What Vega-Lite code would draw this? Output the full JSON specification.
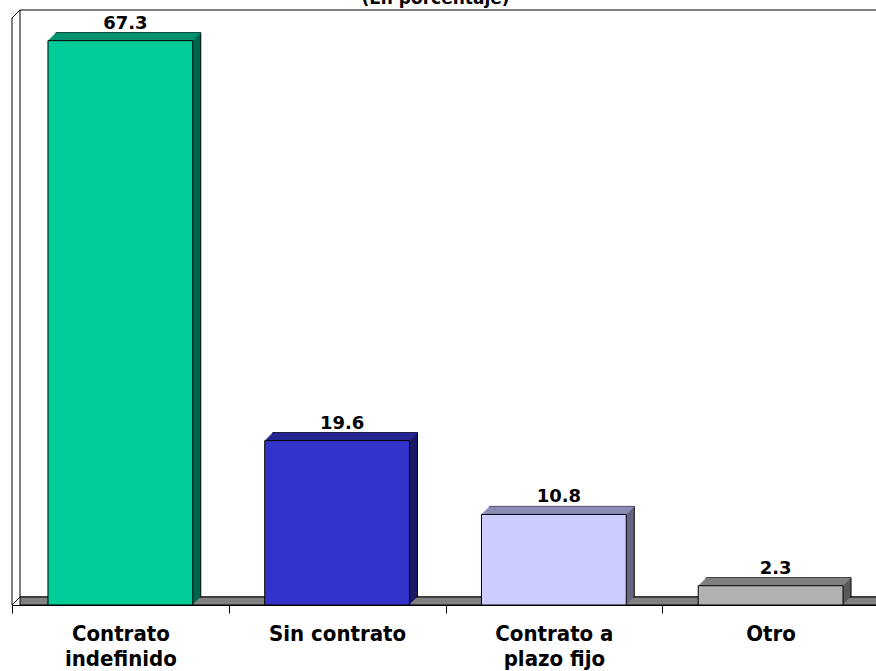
{
  "$schema": "https://vega.github.io/schema/vega-lite/v6.json",
  "width": 867,
  "height": 587,
  "autosize": {"type": "none"},
  "padding": {"left": 12, "top": 18, "right": 0, "bottom": 66},
  "background": "white",
  "title": {"text": "(En porcentaje)", "font": "DejaVu Sans", "fontWeight": "bold", "fontSize": 17, "color": "black", "anchor": "middle", "offset": -11, "dx": -10, "baseline": "alphabetic"},
  "data": {"values": [
    {"cat": "Contrato indefinido", "v": 67.3},
    {"cat": "Sin contrato", "v": 19.6},
    {"cat": "Contrato a plazo fijo", "v": 10.8},
    {"cat": "Otro", "v": 2.3}
  ]},
  "encoding": {
    "x": {"field": "cat", "type": "nominal", "sort": null, "title": null,
      "scale": {"domain": ["Contrato indefinido", "Sin contrato", "Contrato a plazo fijo", "Otro"], "paddingInner": 0, "paddingOuter": 0},
      "axis": {"labelExpr": "datum.label == 'Contrato indefinido' ? ['Contrato', 'indefinido'] : datum.label == 'Contrato a plazo fijo' ? ['Contrato a', 'plazo fijo'] : datum.label"}},
    "y": {"field": "v", "type": "quantitative", "scale": {"domain": [0, 70], "nice": false}, "axis": null}
  },
  "layer": [
    {"transform": [{"filter": "datum.cat == 'Otro'"}],
     "mark": {"type": "rect", "fill": "white", "stroke": "black", "strokeWidth": 1, "xOffset": 8, "x2Offset": 8, "yOffset": -8, "y2Offset": -8},
     "encoding": {
       "x": {"datum": "Contrato indefinido", "type": "nominal", "bandPosition": 0, "title": null},
       "x2": {"datum": "Otro", "bandPosition": 1},
       "y": {"datum": 0, "type": "quantitative"},
       "y2": {"datum": 70}
     }},
    {"transform": [{"filter": "datum.cat == 'Otro'"}],
     "mark": {"type": "rect", "fill": "#808080", "stroke": "black", "strokeWidth": 1, "xOffset": 8, "x2Offset": 8, "yOffset": 0, "y2Offset": -8},
     "encoding": {
       "x": {"datum": "Contrato indefinido", "type": "nominal", "bandPosition": 0, "title": null},
       "x2": {"datum": "Otro", "bandPosition": 1},
       "y": {"datum": 0, "type": "quantitative"},
       "y2": {"datum": 0}
     }},
    {"transform": [{"filter": "datum.cat == 'Otro'"}],
     "mark": {"type": "rule", "color": "black", "strokeWidth": 1},
     "encoding": {
       "x": {"datum": "Contrato indefinido", "type": "nominal", "bandPosition": 0, "title": null},
       "y": {"datum": 0, "type": "quantitative"},
       "y2": {"datum": 70}
     }},
    {"transform": [{"filter": "datum.cat == 'Otro'"}],
     "mark": {"type": "rule", "color": "black", "strokeWidth": 1, "x2Offset": 8, "y2Offset": -8},
     "encoding": {
       "x": {"datum": "Contrato indefinido", "type": "nominal", "bandPosition": 0, "title": null},
       "x2": {"datum": "Contrato indefinido", "bandPosition": 0},
       "y": {"datum": 70, "type": "quantitative"},
       "y2": {"datum": 70}
     }},
    {"transform": [{"filter": "datum.cat == 'Otro'"}],
     "mark": {"type": "rule", "color": "black", "strokeWidth": 1, "x2Offset": 8, "y2Offset": -8},
     "encoding": {
       "x": {"datum": "Contrato indefinido", "type": "nominal", "bandPosition": 0, "title": null},
       "x2": {"datum": "Contrato indefinido", "bandPosition": 0},
       "y": {"datum": 0, "type": "quantitative"},
       "y2": {"datum": 0}
     }},
    {"mark": {"type": "bar", "width": {"band": 0.668}, "xOffset": 8, "x2Offset": 8, "yOffset": -8, "y2Offset": -8, "stroke": "black", "strokeWidth": 1},
     "encoding": {"y2": {"datum": 0}, "fill": {"field": "cat", "type": "nominal", "sort": null, "legend": null, "scale": {"range": ["#006650", "#1A1A66", "#666680", "#595959"]}}}},
    {"mark": {"type": "bar", "width": {"band": 0.668}, "xOffset": 7, "x2Offset": 7, "yOffset": -7, "y2Offset": -7},
     "encoding": {"y2": {"datum": 0}, "fill": {"field": "cat", "type": "nominal", "sort": null, "legend": null}}},
    {"mark": {"type": "bar", "width": {"band": 0.668}, "xOffset": 6, "x2Offset": 6, "yOffset": -6, "y2Offset": -6},
     "encoding": {"y2": {"datum": 0}, "fill": {"field": "cat", "type": "nominal", "sort": null, "legend": null}}},
    {"mark": {"type": "bar", "width": {"band": 0.668}, "xOffset": 5, "x2Offset": 5, "yOffset": -5, "y2Offset": -5},
     "encoding": {"y2": {"datum": 0}, "fill": {"field": "cat", "type": "nominal", "sort": null, "legend": null}}},
    {"mark": {"type": "bar", "width": {"band": 0.668}, "xOffset": 4, "x2Offset": 4, "yOffset": -4, "y2Offset": -4},
     "encoding": {"y2": {"datum": 0}, "fill": {"field": "cat", "type": "nominal", "sort": null, "legend": null}}},
    {"mark": {"type": "bar", "width": {"band": 0.668}, "xOffset": 3, "x2Offset": 3, "yOffset": -3, "y2Offset": -3},
     "encoding": {"y2": {"datum": 0}, "fill": {"field": "cat", "type": "nominal", "sort": null, "legend": null}}},
    {"mark": {"type": "bar", "width": {"band": 0.668}, "xOffset": 2, "x2Offset": 2, "yOffset": -2, "y2Offset": -2},
     "encoding": {"y2": {"datum": 0}, "fill": {"field": "cat", "type": "nominal", "sort": null, "legend": null}}},
    {"mark": {"type": "bar", "width": {"band": 0.668}, "xOffset": 1, "x2Offset": 1, "yOffset": -1, "y2Offset": -1},
     "encoding": {"y2": {"datum": 0}, "fill": {"field": "cat", "type": "nominal", "sort": null, "legend": null}}},
    {"mark": {"type": "rule", "strokeWidth": 1, "xOffset": 0.5, "x2Offset": 0.5, "yOffset": -0.5},
     "encoding": {"x": {"field": "cat", "type": "nominal", "sort": null, "bandPosition": 0.166, "title": null}, "x2": {"field": "cat", "bandPosition": 0.834}, "stroke": {"field": "cat", "type": "nominal", "sort": null, "legend": null, "scale": {"range": ["#00A07A", "#2A2AA0", "#9999CC", "#8C8C8C"]}}}},
    {"mark": {"type": "rule", "strokeWidth": 1, "xOffset": 1.5, "x2Offset": 1.5, "yOffset": -1.5},
     "encoding": {"x": {"field": "cat", "type": "nominal", "sort": null, "bandPosition": 0.166, "title": null}, "x2": {"field": "cat", "bandPosition": 0.834}, "stroke": {"field": "cat", "type": "nominal", "sort": null, "legend": null}}},
    {"mark": {"type": "rule", "strokeWidth": 1, "xOffset": 2.5, "x2Offset": 2.5, "yOffset": -2.5},
     "encoding": {"x": {"field": "cat", "type": "nominal", "sort": null, "bandPosition": 0.166, "title": null}, "x2": {"field": "cat", "bandPosition": 0.834}, "stroke": {"field": "cat", "type": "nominal", "sort": null, "legend": null}}},
    {"mark": {"type": "rule", "strokeWidth": 1, "xOffset": 3.5, "x2Offset": 3.5, "yOffset": -3.5},
     "encoding": {"x": {"field": "cat", "type": "nominal", "sort": null, "bandPosition": 0.166, "title": null}, "x2": {"field": "cat", "bandPosition": 0.834}, "stroke": {"field": "cat", "type": "nominal", "sort": null, "legend": null}}},
    {"mark": {"type": "rule", "strokeWidth": 1, "xOffset": 4.5, "x2Offset": 4.5, "yOffset": -4.5},
     "encoding": {"x": {"field": "cat", "type": "nominal", "sort": null, "bandPosition": 0.166, "title": null}, "x2": {"field": "cat", "bandPosition": 0.834}, "stroke": {"field": "cat", "type": "nominal", "sort": null, "legend": null}}},
    {"mark": {"type": "rule", "strokeWidth": 1, "xOffset": 5.5, "x2Offset": 5.5, "yOffset": -5.5},
     "encoding": {"x": {"field": "cat", "type": "nominal", "sort": null, "bandPosition": 0.166, "title": null}, "x2": {"field": "cat", "bandPosition": 0.834}, "stroke": {"field": "cat", "type": "nominal", "sort": null, "legend": null}}},
    {"mark": {"type": "rule", "strokeWidth": 1, "xOffset": 6.5, "x2Offset": 6.5, "yOffset": -6.5},
     "encoding": {"x": {"field": "cat", "type": "nominal", "sort": null, "bandPosition": 0.166, "title": null}, "x2": {"field": "cat", "bandPosition": 0.834}, "stroke": {"field": "cat", "type": "nominal", "sort": null, "legend": null}}},
    {"mark": {"type": "rule", "strokeWidth": 1, "xOffset": 7.5, "x2Offset": 7.5, "yOffset": -7.5},
     "encoding": {"x": {"field": "cat", "type": "nominal", "sort": null, "bandPosition": 0.166, "title": null}, "x2": {"field": "cat", "bandPosition": 0.834}, "stroke": {"field": "cat", "type": "nominal", "sort": null, "legend": null}}},
    {"mark": {"type": "bar", "width": {"band": 0.668}, "stroke": "black", "strokeWidth": 1},
     "encoding": {"y2": {"datum": 0}, "color": {"field": "cat", "type": "nominal", "sort": null, "legend": null, "scale": {"range": ["#00CC99", "#3333CC", "#CCCCFF", "#B2B2B2"]}}}},
    {"mark": {"type": "text", "font": "DejaVu Sans", "fontWeight": "bold", "fontSize": 18, "color": "black", "baseline": "alphabetic", "dx": 5, "dy": -12},
     "encoding": {"text": {"field": "v", "type": "quantitative", "format": ".1f"}}}
  ],
  "config": {
    "view": {"stroke": null},
    "axisX": {"tickBand": "extent", "domain": true, "domainColor": "black", "domainWidth": 1, "ticks": true, "tickColor": "black", "tickSize": 8, "labelFont": "DejaVu Sans Condensed", "labelFontWeight": "bold", "labelFontSize": 22, "labelColor": "black", "labelPadding": 10, "labelLineHeight": 25, "labelAngle": 0, "grid": false, "title": null}
  }
}
